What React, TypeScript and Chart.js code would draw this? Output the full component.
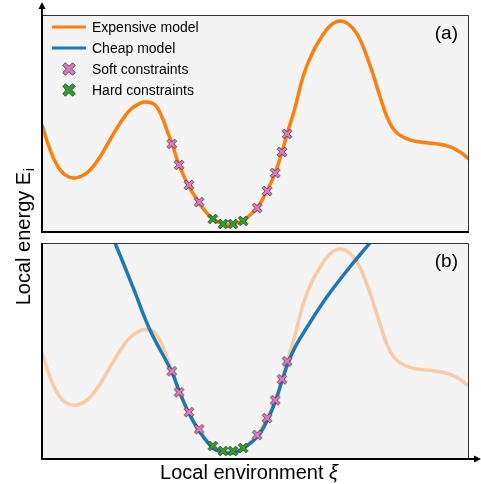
import React, { useEffect, useRef } from "react";
import { Chart, registerables } from "chart.js";

Chart.register(...registerables);

// ---------------- data ----------------
const expensiveX = [0, 0.19, 0.35, 0.54, 0.77, 1.05, 1.31, 1.59, 1.83, 2.06, 2.3, 2.46, 2.65, 2.81, 2.95, 3.04, 3.21, 3.42, 3.68, 3.84, 4.0, 4.24, 4.38, 4.47, 4.71, 4.87, 5.04, 5.27, 5.46, 5.62, 5.74, 5.93, 6.11, 6.32, 6.56, 6.74, 6.96, 7.17, 7.38, 7.56, 7.75, 7.92, 8.08, 8.27, 8.55, 8.85, 9.25, 9.56, 9.79, 10.0];
const expensiveY = [4.93, 3.78, 3.09, 2.63, 2.49, 2.72, 3.32, 4.24, 5.02, 5.62, 5.94, 5.99, 5.85, 5.3, 4.56, 4.1, 3.09, 2.17, 1.34, 0.92, 0.6, 0.37, 0.32, 0.37, 0.51, 0.78, 1.11, 1.89, 2.72, 3.69, 4.52, 5.76, 7.14, 8.2, 9.03, 9.49, 9.72, 9.59, 9.12, 8.34, 7.28, 6.22, 5.3, 4.65, 4.29, 4.15, 4.06, 3.92, 3.69, 3.36];

const cheapX = [1.5, 1.71, 2.13, 2.53, 3.04, 3.23, 3.44, 3.68, 4.0, 4.22, 4.45, 4.66, 5.04, 5.29, 5.46, 5.62, 5.76, 5.93, 6.21, 6.67, 7.21, 7.68, 8.03];
const cheapY = [10.97, 10.0, 7.96, 5.97, 4.03, 3.06, 2.13, 1.3, 0.51, 0.32, 0.28, 0.42, 1.02, 1.85, 2.64, 3.61, 4.44, 5.19, 6.11, 7.5, 8.89, 10.0, 10.83];

const softX = [3.04, 3.21, 3.44, 3.68, 5.04, 5.27, 5.46, 5.62, 5.74];
const softY = [4.06, 3.09, 2.17, 1.38, 1.11, 1.89, 2.72, 3.69, 4.52];

const hardX = [4.0, 4.24, 4.47, 4.71];
const hardY = [0.6, 0.37, 0.37, 0.51];

const legendLabels = ["Expensive model", "Cheap model", "Soft constraints", "Hard constraints"];
const panelLabels = ["(a)", "(b)"];
const xTitle = "Local environment ";
const xTitleSymbol = "ξ";
const yTitle = "Local energy E";
const yTitleSub = "i";

// ---------------- styles ----------------
const W = 481;
const H = 484;
const FONT = "'Liberation Sans', Arial, Helvetica, sans-serif";
const ORANGE = "#ff7f0e";
const ORANGE_FADED = "rgba(255,127,14,0.35)";
const BLUE = "#1f77b4";
const PINK = "#e377c2";
const GREEN = "#2ca02c";
const PANEL_BG = "#f4f4f4";

const zip = (xs: number[], ys: number[]) => xs.map((x, i) => ({ x, y: ys[i] }));

function drawXShape(
  ctx: CanvasRenderingContext2D,
  cx: number,
  cy: number,
  r: number,
  w: number,
  fill: string,
  stroke: string,
  lw: number
) {
  const pts = [
    [w, r], [w, w], [r, w], [r, -w], [w, -w], [w, -r],
    [-w, -r], [-w, -w], [-r, -w], [-r, w], [-w, w], [-w, r],
  ];
  const c = Math.SQRT1_2;
  ctx.beginPath();
  pts.forEach(([x, y], i) => {
    const rx = (x - y) * c;
    const ry = (x + y) * c;
    if (i === 0) ctx.moveTo(cx + rx, cy + ry);
    else ctx.lineTo(cx + rx, cy + ry);
  });
  ctx.closePath();
  ctx.fillStyle = fill;
  ctx.fill();
  ctx.lineWidth = lw;
  ctx.strokeStyle = stroke;
  ctx.lineJoin = "miter";
  ctx.stroke();
}

function markerCanvas(fill: string) {
  const c = document.createElement("canvas");
  c.width = 14;
  c.height = 14;
  const ctx = c.getContext("2d")!;
  drawXShape(ctx, 7, 7, 5.4, 1.5, fill, "#333", 0.8);
  return c;
}

function panelPlugin(which: "a" | "b") {
  return {
    id: "panel_" + which,
    beforeDatasetsDraw(chart: any) {
      const { ctx, chartArea } = chart;
      const { left, top, right, bottom } = chartArea;
      ctx.save();
      ctx.fillStyle = PANEL_BG;
      ctx.fillRect(left, top, right - left, bottom - top);
      ctx.restore();
    },
    afterDatasetsDraw(chart: any) {
      const { ctx, chartArea } = chart;
      const { left, top, right, bottom } = chartArea;
      ctx.save();
      // thin top & right
      ctx.strokeStyle = "#333";
      ctx.lineWidth = 1;
      ctx.beginPath();
      ctx.moveTo(left, top + 0.5);
      ctx.lineTo(right - 0.5, top + 0.5);
      ctx.lineTo(right - 0.5, bottom);
      ctx.stroke();
      // thick left & bottom
      ctx.strokeStyle = "#000";
      ctx.fillStyle = "#000";
      ctx.lineWidth = 2;
      ctx.beginPath();
      ctx.moveTo(left, which === "a" ? 8 : top);
      ctx.lineTo(left, bottom);
      ctx.moveTo(left - 1, bottom);
      ctx.lineTo(which === "b" ? W - 6 : right, bottom);
      ctx.stroke();
      if (which === "a") {
        ctx.beginPath();
        ctx.moveTo(left, 2);
        ctx.lineTo(left - 3.5, 9);
        ctx.lineTo(left + 3.5, 9);
        ctx.closePath();
        ctx.fill();
      } else {
        ctx.beginPath();
        ctx.moveTo(W, bottom);
        ctx.lineTo(W - 7, bottom - 3.5);
        ctx.lineTo(W - 7, bottom + 3.5);
        ctx.closePath();
        ctx.fill();
      }
      // panel label
      ctx.fillStyle = "#000";
      ctx.font = `19px ${FONT}`;
      ctx.textAlign = "right";
      ctx.textBaseline = "middle";
      ctx.fillText(which === "a" ? panelLabels[0] : panelLabels[1], right - 11, top + 19);

      if (which === "a") {
        // legend
        const lx0 = left + 10;
        const lx1 = left + 44;
        const tx = left + 50;
        const rows = [top + 12, top + 33, top + 54, top + 75];
        ctx.lineWidth = 3;
        ctx.lineCap = "butt";
        ctx.strokeStyle = ORANGE;
        ctx.beginPath();
        ctx.moveTo(lx0, rows[0]);
        ctx.lineTo(lx1, rows[0]);
        ctx.stroke();
        ctx.strokeStyle = BLUE;
        ctx.beginPath();
        ctx.moveTo(lx0, rows[1]);
        ctx.lineTo(lx1, rows[1]);
        ctx.stroke();
        const mx = (lx0 + lx1) / 2;
        drawXShape(ctx, mx, rows[2], 7, 1.9, PINK, "#333", 0.8);
        drawXShape(ctx, mx, rows[3], 7, 1.9, GREEN, "#333", 0.8);
        ctx.fillStyle = "#000";
        ctx.font = `14px ${FONT}`;
        ctx.textAlign = "left";
        ctx.textBaseline = "middle";
        legendLabels.forEach((t, i) => ctx.fillText(t, tx, rows[i] + 1));
      } else {
        // x title
        ctx.fillStyle = "#000";
        ctx.textBaseline = "alphabetic";
        ctx.textAlign = "left";
        ctx.font = `20px ${FONT}`;
        const w1 = ctx.measureText(xTitle).width;
        ctx.font = `italic 20px ${FONT}`;
        const w2 = ctx.measureText(xTitleSymbol).width;
        const cx = 249;
        const sx = cx - (w1 + w2) / 2;
        ctx.font = `20px ${FONT}`;
        ctx.fillText(xTitle, sx, 479);
        ctx.font = `italic 20px ${FONT}`;
        ctx.fillText(xTitleSymbol, sx + w1, 479);
        // y title
        ctx.save();
        ctx.translate(30, 237);
        ctx.rotate(-Math.PI / 2);
        ctx.font = `20px ${FONT}`;
        const m1 = ctx.measureText(yTitle).width;
        ctx.font = `14px ${FONT}`;
        const m2 = ctx.measureText(yTitleSub).width;
        const start = -(m1 + m2) / 2;
        ctx.font = `20px ${FONT}`;
        ctx.fillText(yTitle, start, 0);
        ctx.font = `14px ${FONT}`;
        ctx.fillText(yTitleSub, start + m1 + 0.5, 4);
        ctx.restore();
      }
      ctx.restore();
    },
  };
}

function buildConfig(which: "a" | "b"): any {
  const soft = {
    data: zip(softX, softY),
    showLine: false,
    pointStyle: markerCanvas(PINK),
    pointRadius: 6,
  };
  const hard = {
    data: zip(hardX, hardY),
    showLine: false,
    pointStyle: markerCanvas(GREEN),
    pointRadius: 6,
  };
  const expensive = {
    data: zip(expensiveX, expensiveY),
    showLine: true,
    pointRadius: 0,
    borderColor: which === "a" ? ORANGE : ORANGE_FADED,
    borderWidth: 3.5,
    tension: 0.4,
    borderCapStyle: "round",
    borderJoinStyle: "round",
  };
  const cheap = {
    data: zip(cheapX, cheapY),
    showLine: true,
    pointRadius: 0,
    borderColor: BLUE,
    borderWidth: 3.5,
    tension: 0.4,
    borderJoinStyle: "round",
    clip: 0,
  };
  const datasets = which === "a" ? [soft, hard, expensive] : [soft, hard, cheap, expensive];
  return {
    type: "scatter",
    data: { datasets },
    options: {
      responsive: false,
      animation: false,
      devicePixelRatio: 1,
      events: [],
      layout: {
        padding: which === "a"
          ? { left: 42, right: 12, top: 15, bottom: H - 232 }
          : { left: 42, right: 12, top: 243, bottom: H - 459 },
      },
      scales: {
        x: { type: "linear", min: 0, max: 10, display: false },
        y: { type: "linear", min: 0, max: 10, display: false },
      },
      plugins: { legend: { display: false }, tooltip: { enabled: false } },
    },
    plugins: [panelPlugin(which)],
  };
}

export default function App() {
  const refA = useRef<HTMLCanvasElement>(null);
  const refB = useRef<HTMLCanvasElement>(null);
  useEffect(() => {
    const a = new Chart(refA.current!, buildConfig("a"));
    const b = new Chart(refB.current!, buildConfig("b"));
    return () => {
      a.destroy();
      b.destroy();
    };
  }, []);
  return (
    <div style={{ position: "fixed", left: 0, top: 0, width: W, height: H, background: "#fff" }}>
      <canvas ref={refA} width={W} height={H} style={{ position: "absolute", left: 0, top: 0 }} />
      <canvas ref={refB} width={W} height={H} style={{ position: "absolute", left: 0, top: 0 }} />
    </div>
  );
}
